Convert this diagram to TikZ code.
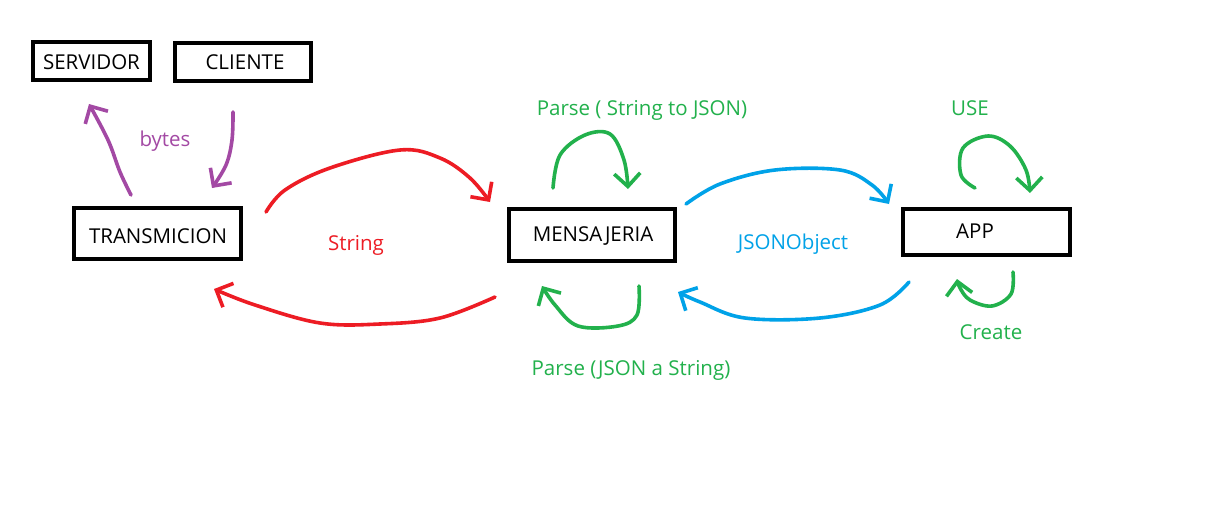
\documentclass[tikz,border=0pt]{standalone}
\usepackage{fontspec}
\setmainfont{Open Sans}
\usetikzlibrary{arrows.meta}
\definecolor{pred}{HTML}{ED1C24}
\definecolor{ppurple}{HTML}{A349A4}
\definecolor{pgreen}{HTML}{22B14C}
\definecolor{pblue}{HTML}{00A2E8}
\begin{document}
\begin{tikzpicture}[x=1pt,y=-1pt,
  box/.style={draw=black,line width=4pt,inner sep=0pt,font=\fontsize{20.5}{24}\selectfont},
  boxtxt/.style={font=\fontsize{20.5}{24}\selectfont,inner sep=0pt},
  lbl/.style={font=\fontsize{20.5}{24}\selectfont,inner sep=0pt},
  hand/.style={line width=3.6pt,line cap=round,line join=round,
    -{Straight Barb[length=13pt,width=26pt,line width=3.6pt]}}]
\useasboundingbox[fill=white] (0,0) rectangle (1223,528);
% boxes
\node[box,minimum width=117pt,minimum height=38pt] (srv) at (91.5,61) {};
\node[boxtxt] (srvtxt) at (91.5,62) {SERVIDOR};
\node[box,minimum width=136pt,minimum height=38pt] (cli) at (243,62) {};
\node[boxtxt] (clitxt) at (245,62) {CLIENTE};
\node[box,minimum width=167pt,minimum height=51pt] (tra) at (157.5,233.5) {};
\node[boxtxt] (tratxt) at (158,236) {TRANSMICION};
\node[box,minimum width=166pt,minimum height=52pt] (men) at (592,235) {};
\node[boxtxt] (mentxt) at (593,236) {MENSAJERIA};
\node[box,minimum width=167pt,minimum height=46pt] (app) at (986.5,232) {};
\node[boxtxt] (apptxt) at (975,231) {APP};
% labels
\node[lbl,text=ppurple] (lbytes) at (165,141) {bytes};
\node[lbl,text=pred] (lstring) at (356,245) {String};
\node[lbl,text=pgreen] (lparse1) at (642,110) {Parse ( String to JSON)};
\node[lbl,text=pgreen] (lparse2) at (631,370) {Parse (JSON a String)};
\node[lbl,text=pblue] (ljson) at (793,244) {JSONObject};
\node[lbl,text=pgreen] (luse) at (970,108) {USE};
\node[lbl,text=pgreen] (lcreate) at (991,332) {Create};
% free ends
\coordinate (p1s) at (131,195); \coordinate (p1e) at (89,104);
\coordinate (p2s) at (233,112); \coordinate (p2e) at (212,188);
\coordinate (r1s) at (266,212); \coordinate (r1e) at (490,202);
\coordinate (r2s) at (495,297); \coordinate (r2e) at (214,289);
\coordinate (g1s) at (553,188); \coordinate (g1e) at (628,189);
\coordinate (g2s) at (639,286); \coordinate (g2e) at (542,286);
\coordinate (b1s) at (686,204); \coordinate (b1e) at (889,204);
\coordinate (b2s) at (909,282); \coordinate (b2e) at (678,292);
\coordinate (u1s) at (975,188); \coordinate (u1e) at (1030,193);
\coordinate (c1s) at (1013,272); \coordinate (c1e) at (957,279);
% purple
\draw[hand,ppurple] plot[smooth,tension=0.6] coordinates {(p1s) (120,172) (108,140) (p1e)};
\draw[hand,ppurple] plot[smooth,tension=0.6] coordinates {(p2s) (232,140) (226,165) (p2e)};
% red
\draw[hand,pred] plot[smooth,tension=0.6] coordinates {(r1s) (285,190) (330,168) (400,150) (440,158) (470,178) (r1e)};
\draw[hand,pred] plot[smooth,tension=0.6] coordinates {(r2s) (440,318) (380,324) (320,323) (255,305) (r2e)};
% green mensajeria
\draw[hand,pgreen] plot[smooth,tension=0.6] coordinates {(g1s) (560,155) (585,135) (610,134) (624,160) (g1e)};
\draw[hand,pgreen] plot[smooth,tension=0.6] coordinates {(g2s) (637,315) (618,326) (578,326) (555,305) (g2e)};
% blue
\draw[hand,pblue] plot[smooth,tension=0.6] coordinates {(b1s) (720,184) (775,170) (840,170) (872,185) (b1e)};
\draw[hand,pblue] plot[smooth,tension=0.6] coordinates {(b2s) (880,305) (820,318) (745,318) (700,302) (b2e)};
% green app
\draw[hand,pgreen] plot[smooth,tension=0.6] coordinates {(u1s) (961,175) (963,148) (988,136) (1010,146) (1026,170) (u1e)};
\draw[hand,pgreen] plot[smooth,tension=0.6] coordinates {(c1s) (1011,294) (992,306) (970,300) (960,288) (c1e)};
\end{tikzpicture}
\end{document}
